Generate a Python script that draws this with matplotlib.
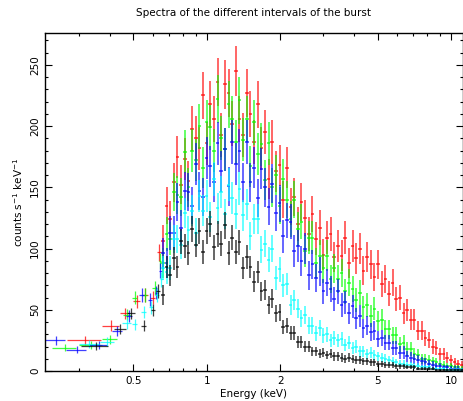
import numpy as np
import matplotlib
matplotlib.use("Agg")
import matplotlib.pyplot as plt
from matplotlib.ticker import MultipleLocator, LogLocator, NullFormatter

# dense part of the spectra: shared energy grid (keV)
energy = [0.66, 0.683, 0.707, 0.732, 0.757, 0.784, 0.811, 0.84, 0.869, 0.90,
          0.931, 0.964, 0.997, 1.032, 1.068, 1.106, 1.145, 1.185, 1.226, 1.269,
          1.313, 1.359, 1.407, 1.456, 1.507, 1.56, 1.614, 1.671, 1.729, 1.79,
          1.852, 1.917, 1.984, 2.054, 2.126, 2.20, 2.277, 2.357, 2.439, 2.525,
          2.613, 2.705, 2.799, 2.897, 2.999, 3.104, 3.212, 3.325, 3.441, 3.562,
          3.686, 3.815, 3.949, 4.087, 4.23, 4.378, 4.531, 4.69, 4.854, 5.024,
          5.20, 5.382, 5.57, 5.765, 5.967, 6.176, 6.392, 6.616, 6.847, 7.087,
          7.335, 7.592, 7.857, 8.132, 8.417, 8.711, 9.016, 9.332, 9.658, 9.996,
          10.35, 10.71, 11.08]

red = [106, 135, 124, 154, 175, 152, 173, 155, 198, 190,
       182, 225, 186, 218, 206, 236, 193, 234, 227, 202,
       245, 206, 193, 227, 210, 187, 218, 182, 195, 157,
       187, 163, 168, 140, 166, 134, 142, 120, 138, 125,
       112, 128, 108, 117, 95, 109, 112, 93, 102, 94,
       109, 88, 102, 92, 100, 82, 93, 87, 77, 87,
       71, 75, 63, 72, 59, 60, 47, 50, 42, 42,
       33, 33, 27, 25, 20, 19, 14, 14, 11, 9,
       7, 6, 5]
green = [88, 112, 108, 146, 144, 142, 179, 150, 180, 172,
         200, 166, 203, 199, 180, 222, 190, 181, 218, 206,
         187, 221, 189, 206, 167, 203, 177, 185, 156, 186,
         150, 160, 135, 157, 140, 124, 140, 116, 122, 98,
         109, 109, 88, 94, 84, 94, 75, 84, 75, 80,
         65, 72, 67, 58, 64, 52, 54, 45, 51, 41,
         42, 34, 34, 29, 29, 22, 23, 18, 18, 14,
         13, 10, 10, 9, 8, 7, 6, 5, 4, 4,
         3, 3, 2]
blue = [96, 88, 113, 113, 138, 117, 147, 146, 135, 169,
        147, 142, 174, 167, 154, 186, 163, 181, 151, 187,
        169, 180, 154, 187, 154, 166, 141, 165, 150, 134,
        153, 129, 137, 110, 123, 122, 98, 102, 90, 100,
        78, 87, 76, 81, 65, 72, 67, 59, 65, 54,
        56, 47, 53, 43, 45, 35, 37, 32, 33, 26,
        27, 23, 23, 19, 19, 15, 15, 12, 11, 10,
        9, 8, 7, 6, 5, 4, 4, 3, 3, 2,
        2, 2, 1]
cyan = [84, 81, 84, 108, 108, 103, 129, 115, 131, 113,
        143, 131, 143, 126, 157, 133, 146, 128, 152, 141,
        128, 149, 127, 136, 110, 124, 124, 99, 104, 91,
        100, 76, 83, 70, 71, 54, 58, 51, 43, 46,
        37, 37, 31, 35, 29, 30, 25, 27, 25, 26,
        21, 23, 19, 20, 16, 16, 14, 15, 13, 12,
        11, 10, 9, 8, 7, 6, 6, 5, 5, 4,
        4, 3, 3, 3, 2, 2, 2, 2, 1, 1,
        1, 1, 1]
black = [62, 85, 78, 92, 85, 106, 102, 96, 116, 103,
         114, 97, 114, 120, 101, 112, 104, 119, 96, 109,
         97, 105, 84, 93, 85, 73, 81, 65, 66, 54,
         59, 47, 48, 36, 37, 31, 31, 24, 24, 20,
         20, 16, 16, 14, 15, 13, 14, 12, 12, 11,
         10, 11, 10, 9, 9, 8, 8, 7, 7, 6,
         6, 5, 5, 5, 4, 4, 4, 3, 3, 3,
         2, 2, 2, 2, 2, 1, 1, 1, 1, 1,
         1, 1, 1]

# wide low-energy bins: centre, half width, rate
red_lo_e = [0.317, 0.405, 0.46, 0.515, 0.56, 0.60, 0.637]
red_lo_w = [0.050, 0.033, 0.020, 0.015, 0.015, 0.013, 0.010]
red_lo_y = [25, 37, 47, 57, 62, 60, 97]
green_lo_e = [0.262, 0.335, 0.40, 0.47, 0.505, 0.555, 0.61, 0.643]
green_lo_w = [0.030, 0.035, 0.030, 0.018, 0.012, 0.012, 0.012, 0.008]
green_lo_y = [19, 21, 26, 46, 60, 62, 68, 90]
blue_lo_e = [0.24, 0.293, 0.36, 0.43, 0.48, 0.54, 0.585, 0.62, 0.645]
blue_lo_w = [0.022, 0.028, 0.030, 0.020, 0.015, 0.012, 0.012, 0.010, 0.008]
blue_lo_y = [25, 17.5, 21, 33, 45, 62, 58, 64, 82]
cyan_lo_e = [0.33, 0.39, 0.47, 0.505, 0.55, 0.59, 0.625, 0.65]
cyan_lo_w = [0.030, 0.025, 0.020, 0.014, 0.012, 0.012, 0.010, 0.008]
cyan_lo_y = [22, 24, 39, 38, 48, 52, 62, 75]
black_lo_e = [0.35, 0.44, 0.49, 0.55, 0.60, 0.63]
black_lo_w = [0.045, 0.025, 0.018, 0.014, 0.012, 0.010]
black_lo_y = [20.5, 34, 47, 37, 50, 65]

series = [
    ("#ff0000", red, red_lo_e, red_lo_w, red_lo_y, 1.3),
    ("#00ff00", green, green_lo_e, green_lo_w, green_lo_y, 1.3),
    ("#0000ff", blue, blue_lo_e, blue_lo_w, blue_lo_y, 1.3),
    ("#00ffff", cyan, cyan_lo_e, cyan_lo_w, cyan_lo_y, 1.1),
    ("#000000", black, black_lo_e, black_lo_w, black_lo_y, 1.0),
]

e = np.array(energy)
edges = np.sqrt(e[:-1] * e[1:])
lo_edge = np.concatenate([[e[0] - (edges[0] - e[0])], edges])
hi_edge = np.concatenate([edges, [e[-1] + (e[-1] - edges[-1])]])
xerr_dense = [e - lo_edge, hi_edge - e]

fig = plt.figure(figsize=(4.64, 4.01), dpi=100)
ax = fig.add_axes([45 / 464, 1 - 371 / 401, 418 / 464, 338 / 401])

for color, vals, lo_e, lo_w, lo_y, s in series:
    y = np.array(vals, dtype=float)
    ax.errorbar(e, y, xerr=xerr_dense, yerr=s * np.sqrt(y), fmt='none',
                ecolor=color, elinewidth=1.2, alpha=0.7)
    ly = np.array(lo_y, dtype=float)
    ax.errorbar(lo_e, ly, xerr=lo_w, yerr=0.7 * np.sqrt(ly), fmt='none',
                ecolor=color, elinewidth=0.9, alpha=0.75)

ax.set_xscale('log')
ax.set_xlim(0.217, 11.2)
ax.set_ylim(0, 276)
ax.set_xticks([0.5, 1, 2, 5, 10])
ax.set_xticklabels(['0.5', '1', '2', '5', '10'])
ax.xaxis.set_minor_locator(LogLocator(base=10, subs=np.arange(2, 10)))
ax.xaxis.set_minor_formatter(NullFormatter())
ax.yaxis.set_major_locator(MultipleLocator(50))
ax.yaxis.set_minor_locator(MultipleLocator(10))
ax.tick_params(which='both', direction='in', top=True, right=True,
               labelsize=7.5, width=0.8)
ax.tick_params(which='major', length=5)
ax.tick_params(which='minor', length=2.5)
plt.setp(ax.get_yticklabels(), rotation=90, va='center')
for sp in ax.spines.values():
    sp.set_linewidth(1.0)

ax.set_xlabel('Energy (keV)', fontsize=7.5, labelpad=2)
ax.set_ylabel('counts s$^{-1}$ keV$^{-1}$', fontsize=7.5, labelpad=4)
fig.text(254 / 464, 1 - 13 / 401, 'Spectra of the different intervals of the burst',
         ha='center', va='center', fontsize=7.5)

fig.savefig('out.png', dpi=100)
